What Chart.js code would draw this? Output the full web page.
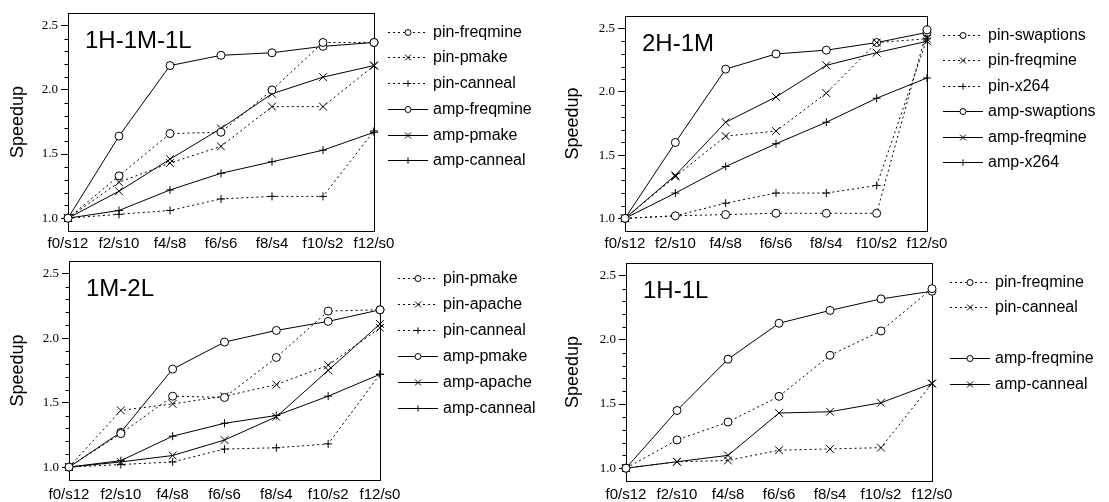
<!DOCTYPE html>
<html>
<head>
<meta charset="utf-8">
<script src="https://cdn.jsdelivr.net/npm/chart.js@4.4.0/dist/chart.umd.min.js"></script>
<style>
  html, body { margin: 0; padding: 0; background: #fff; }
  #wrap { position: relative; width: 1109px; height: 502px; overflow: hidden; }
  canvas { position: absolute; }
</style>
</head>
<body>
<div id="wrap">
  <canvas id="c1" width="555" height="250" style="left:0;top:0"></canvas>
  <canvas id="c2" width="554" height="250" style="left:555px;top:0"></canvas>
  <canvas id="c3" width="555" height="252" style="left:0;top:250px"></canvas>
  <canvas id="c4" width="554" height="252" style="left:555px;top:250px"></canvas>
</div>
<script>
/* ── Data ─────────────────────────────────────────────── */
const LABELS  = ['f0/s12', 'f2/s10', 'f4/s8', 'f6/s6', 'f8/s4', 'f10/s2', 'f12/s0'];
const Y_TICKS = [1.0, 1.5, 2.0, 2.5];

// 1H-1M-1L
const p1PinFreqmine = [1.00, 1.33, 1.66, 1.67, 2.00, 2.37, 2.37];
const p1PinPmake    = [1.00, 1.28, 1.43, 1.56, 1.87, 1.87, 2.19];
const p1PinCanneal  = [1.00, 1.03, 1.06, 1.15, 1.17, 1.17, 1.68];
const p1AmpFreqmine = [1.00, 1.64, 2.19, 2.27, 2.29, 2.34, 2.37];
const p1AmpPmake    = [1.00, 1.21, 1.46, 1.70, 1.97, 2.10, 2.19];
const p1AmpCanneal  = [1.00, 1.06, 1.22, 1.35, 1.44, 1.53, 1.67];

// 2H-1M
const p2PinSwaptions = [1.00, 1.02, 1.03, 1.04, 1.04, 1.04, 2.49];
const p2PinFreqmine  = [1.00, 1.33, 1.65, 1.69, 1.99, 2.39, 2.42];
const p2PinX264      = [1.00, 1.02, 1.12, 1.20, 1.20, 1.26, 2.42];
const p2AmpSwaptions = [1.00, 1.60, 2.18, 2.30, 2.33, 2.39, 2.47];
const p2AmpFreqmine  = [1.00, 1.34, 1.76, 1.96, 2.21, 2.31, 2.40];
const p2AmpX264      = [1.00, 1.20, 1.41, 1.59, 1.76, 1.95, 2.11];

// 1M-2L
const p3PinPmake   = [1.00, 1.26, 1.55, 1.54, 1.85, 2.21, 2.22];
const p3PinApache  = [1.00, 1.44, 1.49, 1.55, 1.64, 1.79, 2.08];
const p3PinCanneal = [1.00, 1.02, 1.04, 1.14, 1.15, 1.18, 1.72];
const p3AmpPmake   = [1.00, 1.27, 1.76, 1.97, 2.06, 2.13, 2.22];
const p3AmpApache  = [1.00, 1.04, 1.09, 1.21, 1.39, 1.75, 2.11];
const p3AmpCanneal = [1.00, 1.05, 1.24, 1.34, 1.40, 1.55, 1.72];

// 1H-1L
const p4PinFreqmine = [1.00, 1.22, 1.36, 1.56, 1.88, 2.07, 2.40];
const p4PinCanneal  = [1.00, 1.05, 1.06, 1.14, 1.15, 1.16, 1.66];
const p4AmpFreqmine = [1.00, 1.45, 1.85, 2.13, 2.23, 2.32, 2.38];
const p4AmpCanneal  = [1.00, 1.05, 1.10, 1.43, 1.44, 1.51, 1.66];

/* ── Styles ───────────────────────────────────────────── */
const SANS  = 'Liberation Sans, Arial, Helvetica, sans-serif';
const SERIF = 'Liberation Serif, Times New Roman, serif';
const DOTS  = [2, 3];

const MARKERS = {
  o: { style: 'circle',   r: 4,   lr: 3   },
  x: { style: 'crossRot', r: 5.5, lr: 4.2 },
  p: { style: 'cross',    r: 4,   lr: 3.2 },
};

function series(label, data, marker, dotted) {
  const m = MARKERS[marker];
  return {
    label, data,
    borderColor: '#000',
    borderWidth: 1,
    borderDash: dotted ? DOTS : [],
    pointStyle: m.style,
    pointRadius: m.r,
    pointHoverRadius: m.r,
    pointBorderWidth: 1,
    pointBorderColor: '#000',
    pointBackgroundColor: '#fff',
    legendRadius: m.lr,
    tension: 0,
    fill: false,
    clip: false,
  };
}

/* ── Plugin: frame, minor ticks, panel title, legend ─── */
const panelDeco = {
  id: 'panelDeco',
  beforeDatasetsDraw(chart) {
    const { ctx, chartArea: a } = chart;
    ctx.save();
    ctx.strokeStyle = '#000';
    ctx.lineWidth = 1;
    ctx.strokeRect(Math.round(a.left) + 0.5, Math.round(a.top) + 0.5,
                   Math.round(a.right - a.left), Math.round(a.bottom - a.top));
    // minor ticks every 0.1
    const y = chart.scales.y;
    ctx.beginPath();
    for (let i = 11; i < 25; i++) {
      if (i % 5 === 0) continue;
      const py = Math.round(y.getPixelForValue(i / 10)) + 0.5;
      ctx.moveTo(a.left - 3.5, py);
      ctx.lineTo(a.left, py);
    }
    ctx.stroke();
    ctx.restore();
  },
  afterDraw(chart, args, opts) {
    const { ctx, chartArea: a } = chart;
    ctx.save();
    ctx.fillStyle = '#000';
    ctx.font = `24px ${SANS}`;
    ctx.textBaseline = 'alphabetic';
    ctx.textAlign = 'left';
    ctx.fillText(opts.title, a.left + 17, a.top + 35);

    // legend
    ctx.font = `16px ${SANS}`;
    ctx.textBaseline = 'middle';
    opts.rows.forEach((idx, i) => {
      if (idx === null) return;
      const ds = chart.data.datasets[idx];
      const yy = Math.round(opts.y + i * opts.rowH) + 0.5;
      ctx.strokeStyle = '#000';
      ctx.lineWidth = 1;
      ctx.setLineDash(ds.borderDash);
      ctx.beginPath();
      ctx.moveTo(opts.x, yy);
      ctx.lineTo(opts.x + 40, yy);
      ctx.stroke();
      ctx.setLineDash([]);
      ctx.fillStyle = '#fff';
      Chart.helpers.drawPoint(ctx, {
        pointStyle: ds.pointStyle, radius: ds.legendRadius, rotation: 0, borderWidth: 1,
      }, opts.x + 20, yy);
      ctx.fillStyle = '#000';
      ctx.fillText(ds.label, opts.x + 45, yy);
    });
    ctx.restore();
  },
};

/* ── Chart factory ────────────────────────────────────── */
function makePanel(id, area, deco, datasets) {
  const canvas = document.getElementById(id);
  const W = canvas.width, H = canvas.height;
  return new Chart(canvas, {
    type: 'line',
    data: { labels: LABELS, datasets },
    plugins: [panelDeco],
    options: {
      responsive: false,
      animation: false,
      events: [],
      layout: {
        autoPadding: false,
        padding: { left: 0, top: area.top, right: W - area.right, bottom: 0 },
      },
      plugins: {
        legend: { display: false },
        tooltip: { enabled: false },
        panelDeco: deco,
      },
      scales: {
        x: {
          type: 'category',
          offset: false,
          grid: { display: false, drawTicks: false },
          border: { display: false },
          ticks: { color: '#000', font: { family: SANS, size: 15 }, padding: area.labelPad,
                   maxRotation: 0, autoSkip: false },
          afterFit: s => { s.height = H - area.bottom; },
        },
        y: {
          min: 0.9,
          max: 2.6,
          grid: { drawOnChartArea: false, drawTicks: true, tickLength: 7,
                  tickColor: '#000', tickWidth: 1 },
          border: { display: false },
          afterBuildTicks: s => { s.ticks = Y_TICKS.map(v => ({ value: v })); },
          ticks: { color: '#000', font: { family: SERIF, size: 13 }, padding: 3,
                   callback: v => Number(v).toFixed(1) },
          title: { display: true, text: 'Speedup', color: '#000',
                   font: { family: SANS, size: 18 }, padding: { top: 7, bottom: 0 } },
          afterFit: s => { s.width = area.left; },
        },
      },
    },
  });
}

makePanel('c1', { left: 68, top: 13, right: 374, bottom: 231, labelPad: 4 },
  { title: '1H-1M-1L', x: 388, y: 31.7, rowH: 25.7, rows: [0, 1, 2, 3, 4, 5] }, [
    series('pin-freqmine', p1PinFreqmine, 'o', true),
    series('pin-pmake',    p1PinPmake,    'x', true),
    series('pin-canneal',  p1PinCanneal,  'p', true),
    series('amp-freqmine', p1AmpFreqmine, 'o', false),
    series('amp-pmake',    p1AmpPmake,    'x', false),
    series('amp-canneal',  p1AmpCanneal,  'p', false),
  ]);

makePanel('c2', { left: 70, top: 16, right: 372, bottom: 231, labelPad: 4 },
  { title: '2H-1M', x: 388, y: 35, rowH: 25.4, rows: [0, 1, 2, 3, 4, 5] }, [
    series('pin-swaptions', p2PinSwaptions, 'o', true),
    series('pin-freqmine',  p2PinFreqmine,  'x', true),
    series('pin-x264',      p2PinX264,      'p', true),
    series('amp-swaptions', p2AmpSwaptions, 'o', false),
    series('amp-freqmine',  p2AmpFreqmine,  'x', false),
    series('amp-x264',      p2AmpX264,      'p', false),
  ]);

makePanel('c3', { left: 69, top: 9, right: 380, bottom: 230, labelPad: 6 },
  { title: '1M-2L', x: 398, y: 28.3, rowH: 25.9, rows: [0, 1, 2, 3, 4, 5] }, [
    series('pin-pmake',   p3PinPmake,   'o', true),
    series('pin-apache',  p3PinApache,  'x', true),
    series('pin-canneal', p3PinCanneal, 'p', true),
    series('amp-pmake',   p3AmpPmake,   'o', false),
    series('amp-apache',  p3AmpApache,  'x', false),
    series('amp-canneal', p3AmpCanneal, 'p', false),
  ]);

makePanel('c4', { left: 71, top: 13, right: 377, bottom: 231, labelPad: 5 },
  { title: '1H-1L', x: 395, y: 31.7, rowH: 25.5, rows: [0, 1, null, 2, 3] }, [
    series('pin-freqmine', p4PinFreqmine, 'o', true),
    series('pin-canneal',  p4PinCanneal,  'x', true),
    series('amp-freqmine', p4AmpFreqmine, 'o', false),
    series('amp-canneal',  p4AmpCanneal,  'x', false),
  ]);
</script>
</body>
</html>
